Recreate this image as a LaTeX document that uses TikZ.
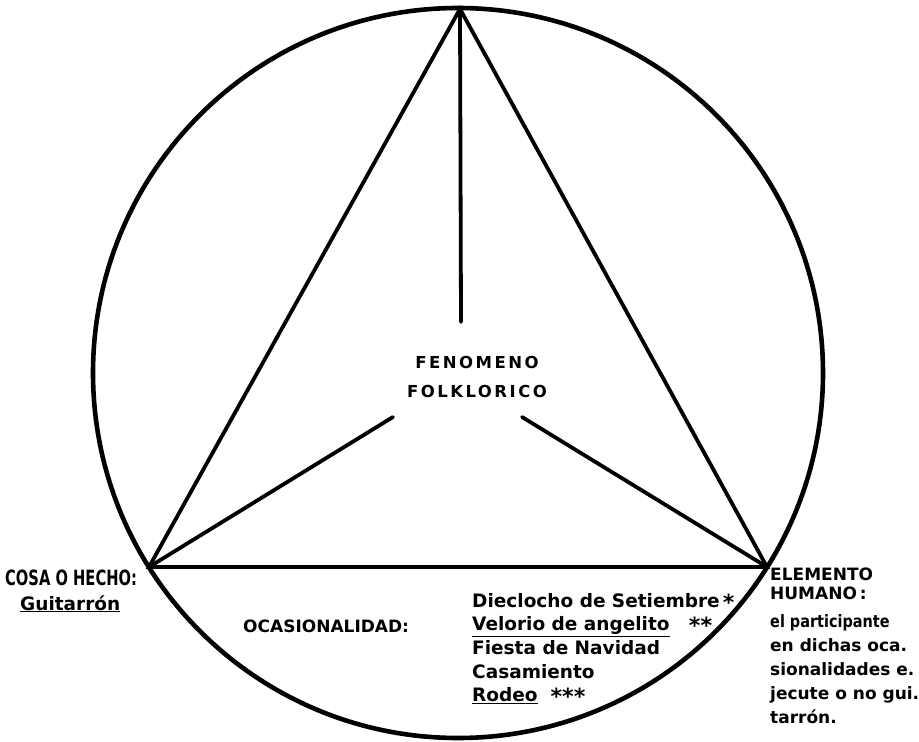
\documentclass[tikz,border=0pt]{standalone}
\usepackage{graphicx}
\usepackage{fontspec}
\setmainfont{DejaVu Sans}
\newfontfamily\spaced[LetterSpace=15]{DejaVu Sans}
\newcommand{\starmark}{\raisebox{-3pt}{\scalebox{1.2}{*}}}

\tikzset{
  rim/.style={line width=4.6pt},
  edge/.style={line width=3.8pt, line cap=round},
  caps/.style={font=\bfseries\fontsize{17}{20}\selectfont, inner sep=0pt, anchor=base west},
  listitem/.style={font=\bfseries\fontsize{18.5}{20}\selectfont, inner sep=0pt, anchor=base west},
  note/.style={font=\bfseries\fontsize{17}{20}\selectfont, inner sep=0pt, anchor=base west},
}

\begin{document}
\begin{tikzpicture}[x=1pt,y=-1pt]
\useasboundingbox (0,0) rectangle (919,742);

\draw [rim] (458,373) circle [radius=365];

\coordinate (apex) at (460,9);
\coordinate (cosa) at (149,567);
\coordinate (humano) at (767,567);
\draw [edge] (apex) -- (cosa) -- (humano) -- cycle;

% centre
\node (fen) at (477,377) [align=center, inner sep=0pt, font=\spaced\bfseries\fontsize{16.5}{29}\selectfont] {FENOMENO\\FOLKLORICO};
\coordinate (fentop) at (461,322);
\coordinate (fenleft) at (393,417);
\coordinate (fenright) at (522,417);
\draw [edge] (apex) -- (fentop);
\draw [edge] (cosa) -- (fenleft);
\draw [edge] (humano) -- (fenright);

% left corner
\node [caps] (cosalbl) at (5,585) {\fontsize{21}{22}\selectfont\scalebox{.7}[1]{COSA O HECHO:}};
\node [listitem] (guit) at (20,610) {\underline{Guitarrón}};

% bottom
\node [caps] (ocas) at (243,632) {OCASIONALIDAD:};
\foreach \txt [count=\i] in {Dieclocho de Setiembre\,\starmark, \underline{Velorio de angelito}\ \ \ \starmark\starmark, Fiesta de Navidad, Casamiento, \underline{Rodeo}\ \ \starmark\starmark\starmark}
  \node [listitem] (occ\i) at (472,583.3+23.7*\i) {\txt};

% right corner
\node [caps] (elem1) at (770,580) {ELEMENTO};
\node [caps] (elem2) at (770,599) {HUMANO\,:};
\foreach \txt [count=\i] in {\scalebox{.85}[1]{el participante}, en dichas oca., sionalidades e., jecute o no gui., tarrón.}
  \node [note] (hum\i) at (770,603+24*\i) {\txt};

\end{tikzpicture}
\end{document}
